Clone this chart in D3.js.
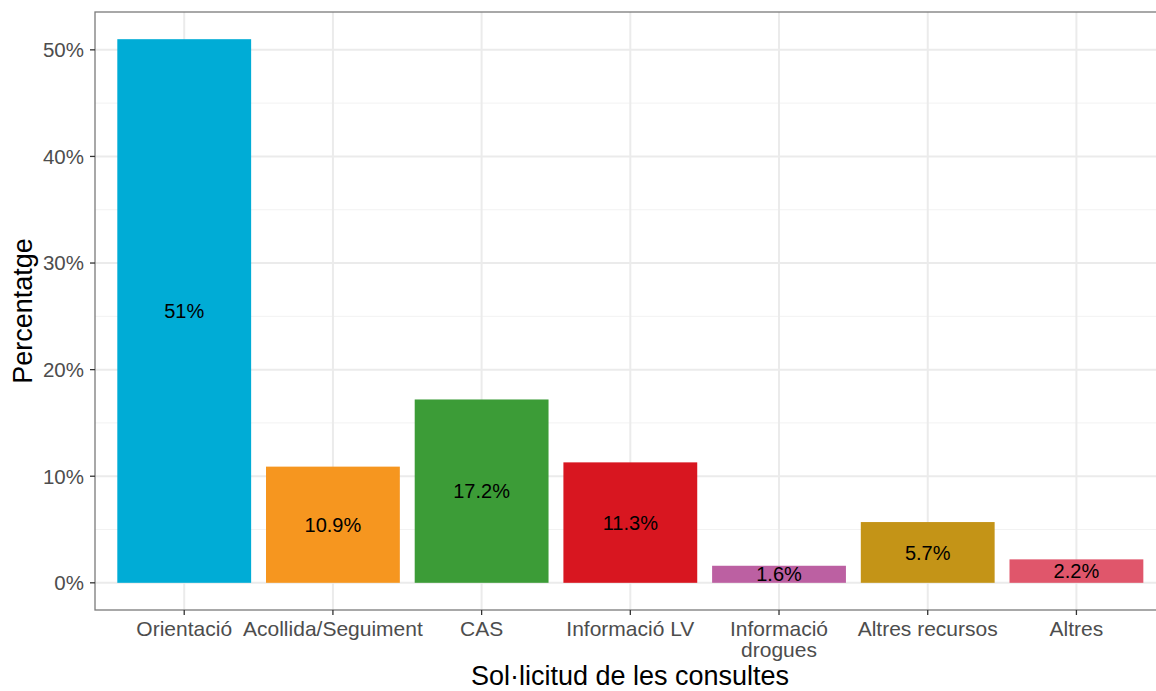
<!DOCTYPE html>
<html><head><meta charset="utf-8">
<script src="https://cdn.jsdelivr.net/npm/d3@7"></script>
<style>body{margin:0;background:#fff}svg{display:block;font-family:"Liberation Sans",Arial,sans-serif}</style>
</head><body>
<svg id="c" width="1156" height="691"></svg>
<script>
const categories = ["Orientació","Acollida/Seguiment","CAS","Informació LV","Informació\ndrogues","Altres recursos","Altres"];
const values = [51, 10.9, 17.2, 11.3, 1.6, 5.7, 2.2];
const labels = ["51%","10.9%","17.2%","11.3%","1.6%","5.7%","2.2%"];
const colors = ["#00ACD6","#F6961F","#3C9C37","#D81620","#BC60A2","#C49417","#E0566B"];
const yTicks = [0,10,20,30,40,50];
const yMinor = [5,15,25,35,45];

const svg = d3.select("#c");
const L = 95, T = 12, B = 610;
const step = 148.7;
const R = L + step*7.2;
const x = d3.scalePoint().domain(categories).range([L, R]).padding(0.6);
const bw = x.step()*0.9;
const y = d3.scaleLinear().domain([-51*0.05, 51*1.05]).range([B, T]);

const W = 1156;
const g = svg.append("g");
g.selectAll(".ymin").data(yMinor).join("line").attr("x1",L).attr("x2",W).attr("y1",d=>y(d)).attr("y2",d=>y(d)).attr("stroke","#F2F2F2").attr("stroke-width",1);
g.selectAll(".ymaj").data(yTicks).join("line").attr("x1",L).attr("x2",W).attr("y1",d=>y(d)).attr("y2",d=>y(d)).attr("stroke","#EBEBEB").attr("stroke-width",2);
g.selectAll(".xmaj").data(categories).join("line").attr("x1",d=>x(d)).attr("x2",d=>x(d)).attr("y1",T).attr("y2",B).attr("stroke","#EBEBEB").attr("stroke-width",2);

svg.selectAll(".bar").data(values).join("rect")
  .attr("x",(d,i)=>x(categories[i])-bw/2).attr("width",bw)
  .attr("y",d=>y(d)).attr("height",d=>y(0)-y(d)).attr("fill",(d,i)=>colors[i]);

svg.selectAll(".lbl").data(values).join("text")
  .attr("x",(d,i)=>x(categories[i])).attr("y",d=>y(d/2))
  .attr("dy","0.36em").attr("text-anchor","middle").attr("font-size",20).attr("fill","#000")
  .text((d,i)=>labels[i]);

svg.append("rect").attr("x",L).attr("y",T).attr("width",R-L).attr("height",B-T).attr("fill","none").attr("stroke","#7a7a7a").attr("stroke-width",1.3);

const ya = svg.append("g");
ya.selectAll("line").data(yTicks).join("line").attr("x1",L-5).attr("x2",L).attr("y1",d=>y(d)).attr("y2",d=>y(d)).attr("stroke","#333").attr("stroke-width",1.3);
ya.selectAll("text").data(yTicks).join("text").attr("x",L-11).attr("y",d=>y(d)).attr("dy","0.36em").attr("text-anchor","end").attr("font-size",20.5).attr("fill","#4D4D4D").text(d=>d+"%");

const xa = svg.append("g");
xa.selectAll("line").data(categories).join("line").attr("x1",d=>x(d)).attr("x2",d=>x(d)).attr("y1",B).attr("y2",B+5).attr("stroke","#333").attr("stroke-width",1.3);
xa.selectAll("text").data(categories).join("text")
  .attr("x",d=>x(d)).attr("y",B+26).attr("text-anchor","middle").attr("font-size",21).attr("fill","#4D4D4D")
  .each(function(d){
    const t = d3.select(this);
    d.split("\n").forEach((ln,i)=>t.append("tspan").attr("x",x(d)).attr("dy",i?21:0).text(ln));
  });

svg.append("text").attr("x",630).attr("y",685).attr("text-anchor","middle").attr("font-size",27).attr("fill","#000").text("Sol·licitud de les consultes");
svg.append("text").attr("transform",`translate(32,311) rotate(-90)`).attr("text-anchor","middle").attr("font-size",27).attr("fill","#000").text("Percentatge");
</script>
</body></html>
